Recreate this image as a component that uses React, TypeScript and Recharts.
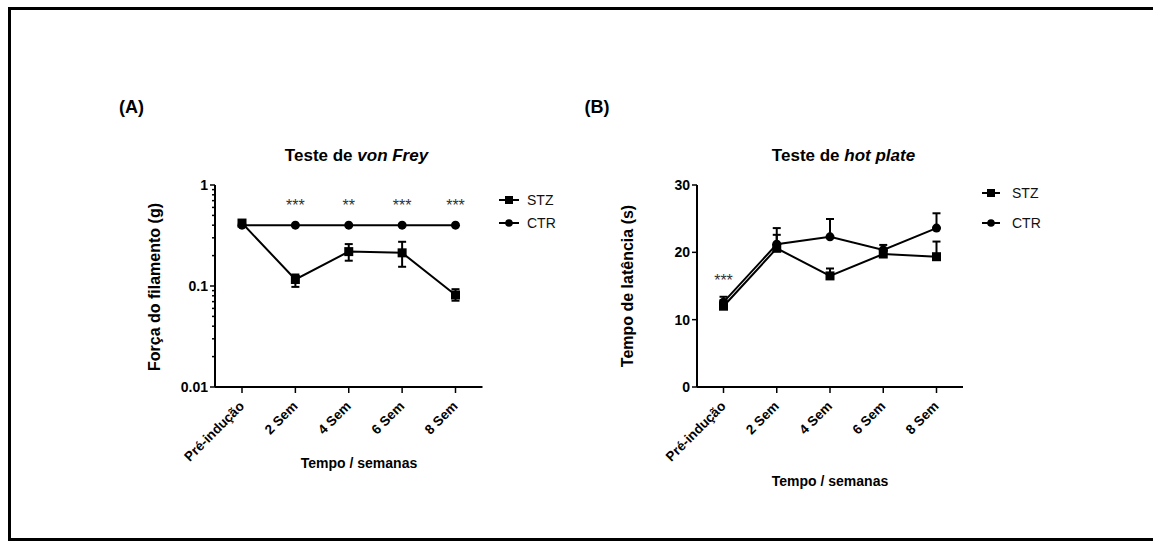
import React from 'react';
import { LineChart, Line, XAxis, YAxis, ErrorBar, Legend, ReferenceDot } from 'recharts';

const FONT = '"Liberation Sans", Arial, Helvetica, sans-serif';

// Categories (x axis)
const categories = ['Pré-indução', '2 Sem', '4 Sem', '6 Sem', '8 Sem'];
const seriesNames = ['STZ', 'CTR'];

// (A) Teste de von Frey – força do filamento (g), log scale
const stzForce = [0.42, 0.116, 0.219, 0.213, 0.0815];
const stzForceErrLow = [0.02, 0.018, 0.041, 0.058, 0.01];
const stzForceErrHigh = [0.02, 0.014, 0.041, 0.061, 0.0115];
const ctrForce = [0.4, 0.4, 0.4, 0.4, 0.4];
const starsA = ['', '***', '**', '***', '***'];
const forceMajorTicks = [0.01, 0.1, 1];
const forceMinorTicks = [0.02, 0.03, 0.04, 0.05, 0.06, 0.07, 0.08, 0.09, 0.2, 0.3, 0.4, 0.5, 0.6, 0.7, 0.8, 0.9];
const STAR_LEVEL_A = 0.63;

// (B) Teste de hot plate – tempo de latência (s)
const stzLatency = [12.0, 20.6, 16.5, 19.75, 19.35];
const stzLatencyErr = [0.9, 2.0, 1.1, 0.5, 2.25];
const ctrLatency = [12.6, 21.2, 22.3, 20.35, 23.6];
const ctrLatencyErr = [0.8, 2.4, 2.65, 0.75, 2.2];
const starsB = ['***', '', '', '', ''];
const latencyTicks = [0, 10, 20, 30];
const STAR_LEVEL_B = 15.8;

const dataA = categories.map((c, i) => ({
  cat: c,
  stz: stzForce[i],
  stzErr: [stzForceErrLow[i], stzForceErrHigh[i]],
  ctr: ctrForce[i],
}));

const dataB = categories.map((c, i) => ({
  cat: c,
  stz: stzLatency[i],
  stzErr: [0, stzLatencyErr[i]],
  ctr: ctrLatency[i],
  ctrErr: [0, ctrLatencyErr[i]],
}));

const SquareDot = (props: any) => {
  const { cx, cy, index } = props;
  if (cx == null || cy == null) return <g key={`s${index}`} />;
  return <rect key={`s${index}`} x={cx - 4.5} y={cy - 4.5} width={9} height={9} fill="#000" />;
};

const CircleDot = (props: any) => {
  const { cx, cy, index } = props;
  if (cx == null || cy == null) return <g key={`c${index}`} />;
  return <circle key={`c${index}`} cx={cx} cy={cy} r={4.5} fill="#000" />;
};

const RotTick = (props: any) => {
  const { x, y, payload } = props;
  return (
    <g transform={`translate(${x + 3},${y + 12})`}>
      <text x={0} y={0} textAnchor="end" transform="rotate(-45)" fontSize={13.5} fontWeight="bold" fill="#000" fontFamily={FONT}>
        {payload.value}
      </text>
    </g>
  );
};

const LogTick = (props: any) => {
  const { x, y, payload } = props;
  const major = forceMajorTicks.includes(payload.value);
  return (
    <g>
      <line x1={x - (major ? 5 : 3)} x2={x} y1={y} y2={y} stroke="#000" strokeWidth={1.5} />
      {major && (
        <text x={x - 7} y={y} dy={5} textAnchor="end" fontSize={14} fontWeight="bold" fill="#000" fontFamily={FONT}>
          {String(payload.value)}
        </text>
      )}
    </g>
  );
};

const makeLegend = (rowH: number, lineW: number, gap: number) => (props: any) => {
  const payload = (props.payload || []).slice();
  payload.sort((a: any, b: any) => seriesNames.indexOf(a.value) - seriesNames.indexOf(b.value));
  return (
    <div style={{ fontFamily: FONT, fontSize: 14, color: '#111' }}>
      {payload.map((e: any) => (
        <div key={e.value} style={{ display: 'flex', alignItems: 'center', height: rowH }}>
          <svg width={lineW + 2} height={12} style={{ display: 'block' }}>
            <line x1={1} x2={lineW + 1} y1={6} y2={6} stroke="#000" strokeWidth={2} />
            {e.value === 'STZ' ? (
              <rect x={lineW / 2 + 1 - 4} y={2} width={8} height={8} fill="#000" />
            ) : (
              <circle cx={lineW / 2 + 1} cy={6} r={3.8} fill="#000" />
            )}
          </svg>
          <span style={{ marginLeft: gap, lineHeight: 1 }}>{e.value}</span>
        </div>
      ))}
    </div>
  );
};

const Txt = ({ cx, cy, size, rotate = 0, children, weight = 'bold' }: any) => (
  <div
    style={{
      position: 'absolute',
      left: cx,
      top: cy,
      transform: `translate(-50%, -50%) rotate(${rotate}deg)`,
      whiteSpace: 'nowrap',
      fontSize: size,
      fontWeight: weight,
      lineHeight: 1,
      fontFamily: FONT,
      color: '#000',
    }}
  >
    {children}
  </div>
);

const starLabel = (s: string) => ({ value: s, position: 'center' as const, fill: '#333', fontSize: 16, fontFamily: FONT });

export default function App() {
  return (
    <div style={{ position: 'absolute', left: 0, top: 0, width: 1153, height: 541, overflow: 'hidden', background: '#fff', fontFamily: FONT }}>
      <div style={{ position: 'absolute', left: 8, top: 7, width: 1200, height: 534, border: '3px solid #000', boxSizing: 'border-box' }} />

      {/* Chart A */}
      <div style={{ position: 'absolute', left: 0, top: 0 }}>
        <LineChart width={560} height={541} data={dataA} margin={{ top: 185, right: 77.5, bottom: 94, left: 155 }}>
          <XAxis
            dataKey="cat"
            padding={{ left: 27, right: 27 }}
            height={60}
            interval={0}
            tickSize={6}
            tickMargin={2}
            axisLine={{ stroke: '#000', strokeWidth: 2 }}
            tickLine={{ stroke: '#000', strokeWidth: 1.5 }}
            tick={<RotTick />}
          />
          <YAxis
            type="number"
            scale="log"
            domain={[0.01, 1]}
            allowDataOverflow
            ticks={[...forceMajorTicks, ...forceMinorTicks]}
            interval={0}
            width={60}
            tickSize={0}
            tickMargin={0}
            tickLine={false}
            axisLine={{ stroke: '#000', strokeWidth: 2 }}
            tick={<LogTick />}
          />
          <Legend
            layout="vertical"
            align="center"
            verticalAlign="middle"
            wrapperStyle={{ left: 498, top: 189, width: 'auto' }}
            content={makeLegend(22.5, 20, 7)}
          />
          <Line dataKey="ctr" name="CTR" stroke="#000" strokeWidth={2} dot={<CircleDot />} isAnimationActive={false} />
          <Line dataKey="stz" name="STZ" stroke="#000" strokeWidth={2} dot={<SquareDot />} isAnimationActive={false}>
            <ErrorBar dataKey="stzErr" width={4} strokeWidth={2} stroke="#000" direction="y" />
          </Line>
          {starsA.map((s, i) =>
            s ? (
              <ReferenceDot key={`sa${i}`} x={categories[i]} y={STAR_LEVEL_A} r={1} fill="none" stroke="none" ifOverflow="visible" label={starLabel(s)} />
            ) : null
          )}
        </LineChart>
      </div>

      {/* Chart B */}
      <div style={{ position: 'absolute', left: 560, top: 0 }}>
        <LineChart width={593} height={541} data={dataB} margin={{ top: 185, right: 190, bottom: 94, left: 77 }}>
          <XAxis
            dataKey="cat"
            padding={{ left: 26.5, right: 26.5 }}
            height={60}
            interval={0}
            tickSize={6}
            tickMargin={2}
            axisLine={{ stroke: '#000', strokeWidth: 2 }}
            tickLine={{ stroke: '#000', strokeWidth: 1.5 }}
            tick={<RotTick />}
          />
          <YAxis
            type="number"
            domain={[0, 30]}
            ticks={latencyTicks}
            interval={0}
            width={60}
            tickSize={5}
            tickMargin={2}
            axisLine={{ stroke: '#000', strokeWidth: 2 }}
            tickLine={{ stroke: '#000', strokeWidth: 1.5 }}
            tick={{ fontSize: 14, fontWeight: 'bold', fill: '#000', fontFamily: FONT }}
          />
          <Legend
            layout="vertical"
            align="center"
            verticalAlign="middle"
            wrapperStyle={{ left: 421, top: 178, width: 'auto' }}
            content={makeLegend(30, 18, 11)}
          />
          <Line dataKey="ctr" name="CTR" stroke="#000" strokeWidth={2} dot={<CircleDot />} isAnimationActive={false}>
            <ErrorBar dataKey="ctrErr" width={4} strokeWidth={2} stroke="#000" direction="y" />
          </Line>
          <Line dataKey="stz" name="STZ" stroke="#000" strokeWidth={2} dot={<SquareDot />} isAnimationActive={false}>
            <ErrorBar dataKey="stzErr" width={4} strokeWidth={2} stroke="#000" direction="y" />
          </Line>
          {starsB.map((s, i) =>
            s ? (
              <ReferenceDot key={`sb${i}`} x={categories[i]} y={STAR_LEVEL_B} r={1} fill="none" stroke="none" ifOverflow="visible" label={starLabel(s)} />
            ) : null
          )}
        </LineChart>
      </div>

      {/* Panel labels and titles */}
      <Txt cx={131.5} cy={107} size={18}>(A)</Txt>
      <Txt cx={597} cy={107} size={18}>(B)</Txt>
      <Txt cx={356.5} cy={154.5} size={17}>
        Teste de <i>von Frey</i>
      </Txt>
      <Txt cx={843.5} cy={154.5} size={17}>
        Teste de <i>hot plate</i>
      </Txt>
      <Txt cx={155} cy={287} size={16} rotate={-90}>Força do filamento (g)</Txt>
      <Txt cx={628} cy={286} size={16} rotate={-90}>Tempo de latência (s)</Txt>
      <Txt cx={359} cy={463} size={14}>Tempo / semanas</Txt>
      <Txt cx={830} cy={481} size={14}>Tempo / semanas</Txt>
    </div>
  );
}
